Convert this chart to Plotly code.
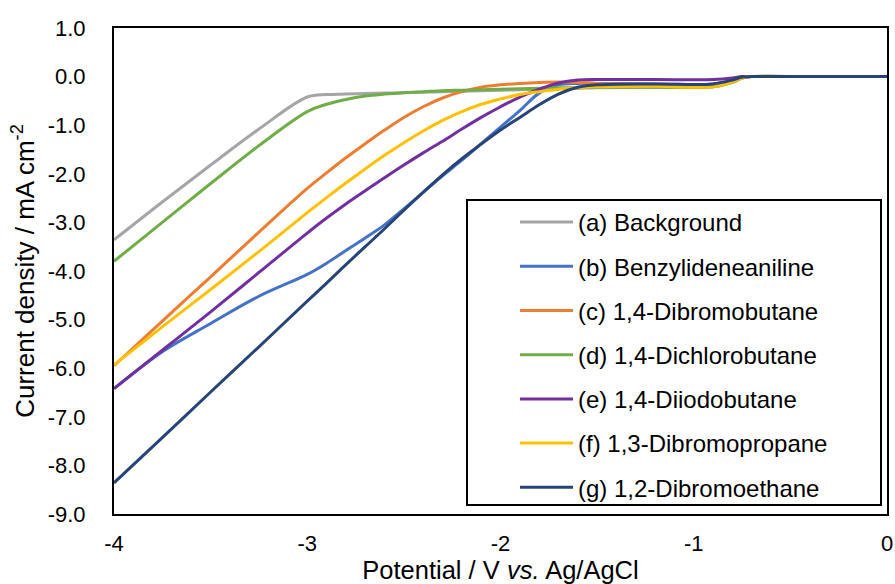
import plotly.graph_objects as go

# Potential / V vs. Ag/AgCl
potential = [-4.0, -3.75, -3.5, -3.25, -3.0, -2.9, -2.8, -2.7, -2.6, -2.5, -2.4, -2.3,
             -2.2, -2.1, -2.0, -1.9, -1.8, -1.7, -1.6, -1.5, -1.2, -0.9, -0.8, -0.75,
             -0.7, -0.4, 0.0]

# Current density / mA cm-2
background = [-3.36, -2.58, -1.82, -1.08, -0.42, -0.37, -0.36, -0.35, -0.34, -0.33, -0.32, -0.31,
              -0.30, -0.29, -0.28, -0.27, -0.26, -0.25, -0.24, -0.23, -0.22, -0.21, -0.12, -0.03,
              0.0, 0.0, 0.0]
benzylideneaniline = [-6.42, -5.66, -5.08, -4.52, -4.07, -3.84, -3.58, -3.32, -3.05, -2.72, -2.38, -2.04,
                      -1.72, -1.38, -1.04, -0.70, -0.34, -0.17, -0.14, -0.14, -0.15, -0.15, -0.07, -0.01,
                      0.0, 0.0, 0.0]
dibromobutane_14 = [-5.95, -5.03, -4.12, -3.20, -2.30, -1.98, -1.67, -1.38, -1.10, -0.84, -0.62, -0.44,
                    -0.31, -0.22, -0.17, -0.14, -0.12, -0.11, -0.12, -0.14, -0.16, -0.16, -0.08, -0.02,
                    0.0, 0.0, 0.0]
dichlorobutane_14 = [-3.80, -3.00, -2.20, -1.42, -0.72, -0.57, -0.47, -0.40, -0.36, -0.33, -0.31, -0.29,
                     -0.28, -0.27, -0.26, -0.25, -0.24, -0.23, -0.23, -0.22, -0.22, -0.21, -0.12, -0.03,
                     0.0, 0.0, 0.0]
diiodobutane_14 = [-6.42, -5.63, -4.84, -4.03, -3.22, -2.91, -2.62, -2.35, -2.08, -1.82, -1.57, -1.33,
                   -1.08, -0.84, -0.62, -0.42, -0.26, -0.13, -0.07, -0.06, -0.06, -0.06, -0.03, 0.0,
                   0.0, 0.0, 0.0]
dibromopropane_13 = [-5.93, -5.15, -4.38, -3.60, -2.80, -2.49, -2.19, -1.90, -1.62, -1.36, -1.12, -0.90,
                     -0.72, -0.57, -0.46, -0.37, -0.31, -0.26, -0.23, -0.21, -0.20, -0.21, -0.11, -0.03,
                     0.0, 0.0, 0.0]
dibromoethane_12 = [-8.36, -7.43, -6.49, -5.56, -4.62, -4.25, -3.87, -3.50, -3.13, -2.75, -2.38, -2.02,
                    -1.69, -1.39, -1.10, -0.84, -0.58, -0.36, -0.22, -0.17, -0.15, -0.15, -0.07, -0.01,
                    0.0, 0.0, 0.0]

series_names = ["(a) Background", "(b) Benzylideneaniline", "(c) 1,4-Dibromobutane",
                "(d) 1,4-Dichlorobutane", "(e) 1,4-Diiodobutane", "(f) 1,3-Dibromopropane",
                "(g) 1,2-Dibromoethane"]
series_values = [background, benzylideneaniline, dibromobutane_14, dichlorobutane_14,
                 diiodobutane_14, dibromopropane_13, dibromoethane_12]
series_colors = ["#A5A5A5", "#4472C4", "#ED7D31", "#70AD47", "#7030A0", "#FFC000", "#264478"]

x_tickvals = [-4, -3, -2, -1, 0]
x_ticktext = ["-4", "-3", "-2", "-1", "0"]
y_tickvals = [1, 0, -1, -2, -3, -4, -5, -6, -7, -8, -9]
y_ticktext = ["1.0", "0.0", "-1.0", "-2.0", "-3.0", "-4.0", "-5.0", "-6.0", "-7.0", "-8.0", "-9.0"]

FONT = "Liberation Sans, Arial, sans-serif"

fig = go.Figure()
for name, vals, col in zip(series_names, series_values, series_colors):
    fig.add_trace(go.Scatter(
        x=potential, y=vals, name=name, mode="lines",
        line=dict(color=col, width=3, shape="spline", smoothing=1.0),
        legendgroup=name,
    ))

W, H = 895, 584
L, R, T, B = 114, 8, 28, 70
pw, ph = W - L - R, H - T - B

def px2x(px):
    return (px - L) / pw

def py2y(py):
    return (H - B - py) / ph

fig.update_layout(
    width=W, height=H,
    margin=dict(l=L, r=R, t=T, b=B, pad=0),
    paper_bgcolor="white", plot_bgcolor="white",
    font=dict(family=FONT, size=22, color="black"),
    showlegend=True,
    legend=dict(
        x=px2x(515), y=py2y(200), xanchor="left", yanchor="top",
        bgcolor="rgba(0,0,0,0)", borderwidth=0,
        font=dict(family=FONT, size=24, color="black"),
        tracegroupgap=10, itemwidth=53,
    ),
    shapes=[dict(type="rect", xref="paper", yref="paper",
                 x0=px2x(467), x1=px2x(881), y0=py2y(505), y1=py2y(200),
                 line=dict(color="black", width=2), fillcolor="white", layer="below")],
)

fig.update_xaxes(
    range=[-4, 0], tickvals=x_tickvals, ticktext=x_ticktext, automargin=False,
    showgrid=False, zeroline=False, showline=True, mirror=True,
    linecolor="black", linewidth=2, ticks="", ticklabelstandoff=9,
    tickfont=dict(size=22),
    title=dict(text="Potential / V <i>vs.</i> Ag/AgCl", font=dict(size=25.5), standoff=8),
)
fig.update_yaxes(
    range=[-9, 1], tickvals=y_tickvals, ticktext=y_ticktext, automargin=False,
    showgrid=False, zeroline=False, showline=True, mirror=True,
    linecolor="black", linewidth=2, ticks="", ticklabelstandoff=22,
    tickfont=dict(size=22),
    title=dict(text="Current density / mA cm<sup>-2</sup>", font=dict(size=26), standoff=6),
)

fig.write_html("out.html")
